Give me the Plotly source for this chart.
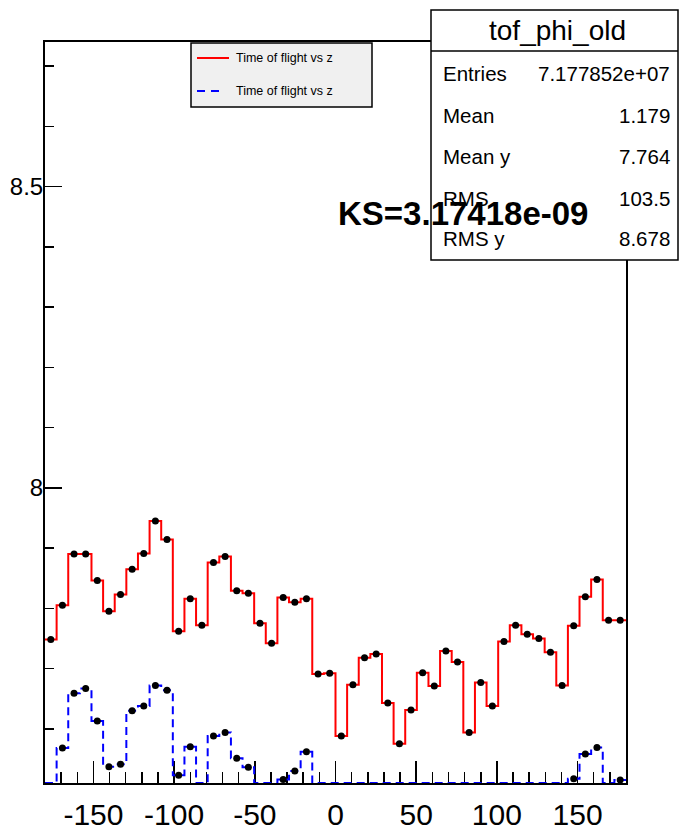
import numpy as np
import plotly.graph_objects as go

# ---------------- data ----------------
X_MIN, X_MAX, N_BINS = -180.0, 180.0, 50
Y_MIN, Y_MAX = 7.51, 8.74

red_values = [7.748, 7.805, 7.890, 7.890, 7.846, 7.795, 7.823, 7.865, 7.891, 7.945,
              7.914, 7.762, 7.816, 7.772, 7.876, 7.886, 7.829, 7.825, 7.775, 7.742,
              7.818, 7.810, 7.816, 7.691, 7.692, 7.588, 7.673, 7.718, 7.724, 7.643,
              7.575, 7.631, 7.693, 7.671, 7.729, 7.711, 7.594, 7.677, 7.638, 7.745,
              7.772, 7.757, 7.750, 7.727, 7.672, 7.771, 7.819, 7.848, 7.780, 7.780]

blue_values = [0.0, 7.568, 7.659, 7.667, 7.613, 7.537, 7.541, 7.630, 7.638, 7.672,
               7.664, 7.523, 7.570, 0.0, 7.588, 7.594, 7.551, 7.536, 0.0, 0.0,
               7.516, 7.530, 7.562, 0.0, 0.0, 0.0, 0.0, 0.0, 0.0, 0.0,
               0.0, 0.0, 0.0, 0.0, 0.0, 0.0, 0.0, 0.0, 0.0, 0.0,
               0.0, 0.0, 0.0, 0.0, 0.0, 7.517, 7.558, 7.569, 0.0, 7.515]

x_tick_vals = [-150, -100, -50, 0, 50, 100, 150]
x_tick_text = ["-150", "-100", "-50", "0", "50", "100", "150"]
y_tick_vals = [8.0, 8.5]
y_tick_text = ["8", "8.5"]
legend_labels = ["Time of flight vs z", "Time of flight vs z"]
stats_title = "tof_phi_old"
stats_names = ["Entries", "Mean", "Mean y", "RMS", "RMS y"]
stats_values = ["7.177852e+07", "1.179", "7.764", "103.5", "8.678"]
ks_text = "KS=3.17418e-09"

# ---------------- helpers ----------------
edges = np.linspace(X_MIN, X_MAX, N_BINS + 1)
centers = 0.5 * (edges[:-1] + edges[1:])


def step_y(vals):
    v = np.maximum(np.asarray(vals, float), Y_MIN)  # underflow drawn at frame bottom
    return np.append(v, v[-1])


def marker_y(vals):
    return [v if v >= Y_MIN else None for v in vals]


FONT = "Liberation Sans, Arial, Helvetica, sans-serif"
L, R, T, B = 45, 626, 42, 783
W, H = 679, 830


def PX(px):
    return (px - L) / (R - L)


def PY(py):
    return (B - py) / (B - T)


fig = go.Figure()
fig.add_trace(go.Scatter(x=edges, y=step_y(red_values), mode="lines",
                         line=dict(shape="hv", color="#ff0000", width=2),
                         name=legend_labels[0], showlegend=False))
fig.add_trace(go.Scatter(x=edges, y=step_y(blue_values), mode="lines",
                         line=dict(shape="hv", color="#0000ff", width=2, dash="8px,5px"),
                         name=legend_labels[1], showlegend=False))
fig.add_trace(go.Scatter(x=centers, y=marker_y(red_values), mode="markers",
                         marker=dict(color="black", size=7), showlegend=False,
                         hoverinfo="skip"))
fig.add_trace(go.Scatter(x=centers, y=marker_y(blue_values), mode="markers",
                         marker=dict(color="black", size=7), showlegend=False,
                         hoverinfo="skip"))

shapes = []
annotations = []

# legend box
shapes.append(dict(type="rect", xref="paper", yref="paper",
                   x0=PX(191), x1=PX(372), y0=PY(107), y1=PY(43),
                   fillcolor="#f0f0f0", line=dict(color="black", width=1.5), layer="above"))
shapes.append(dict(type="line", xref="paper", yref="paper",
                   x0=PX(197), x1=PX(229), y0=PY(58), y1=PY(58),
                   line=dict(color="#ff0000", width=2), layer="above"))
shapes.append(dict(type="line", xref="paper", yref="paper",
                   x0=PX(197), x1=PX(224), y0=PY(91), y1=PY(91),
                   line=dict(color="#0000ff", width=2, dash="8px,6px"), layer="above"))
for lab, yy in zip(legend_labels, [58, 91]):
    annotations.append(dict(text=lab, xref="paper", yref="paper", x=PX(234), y=PY(yy),
                            xanchor="left", yanchor="middle", showarrow=False,
                            font=dict(family=FONT, size=12.5, color="black")))

# stats box
shapes.append(dict(type="rect", xref="paper", yref="paper",
                   x0=PX(431), x1=PX(678), y0=PY(260), y1=PY(10),
                   fillcolor="white", line=dict(color="black", width=1.5), layer="above"))
shapes.append(dict(type="line", xref="paper", yref="paper",
                   x0=PX(431), x1=PX(678), y0=PY(51), y1=PY(51),
                   line=dict(color="black", width=1.5), layer="above"))
annotations.append(dict(text=stats_title, xref="paper", yref="paper", x=PX(557), y=PY(31),
                        xanchor="center", yanchor="middle", showarrow=False,
                        font=dict(family=FONT, size=28, color="black")))
row_y = [74, 115, 156, 198, 239]
for name, val, yy in zip(stats_names, stats_values, row_y):
    annotations.append(dict(text=name, xref="paper", yref="paper", x=PX(441), y=PY(yy),
                            xanchor="left", yanchor="middle", showarrow=False,
                            font=dict(family=FONT, size=20.5, color="black")))
    annotations.append(dict(text=val, xref="paper", yref="paper", x=PX(672), y=PY(yy),
                            xanchor="right", yanchor="middle", showarrow=False,
                            font=dict(family=FONT, size=20.5, color="black")))

# KS text
annotations.append(dict(text="<b>" + ks_text + "</b>", xref="paper", yref="paper",
                        x=PX(336), y=PY(214), xanchor="left", yanchor="middle",
                        showarrow=False,
                        font=dict(family=FONT, size=33, color="black")))

fig.update_layout(
    width=W, height=H,
    margin=dict(l=L, r=W - R, t=T, b=H - B, pad=0, autoexpand=False),
    plot_bgcolor="white", paper_bgcolor="white",
    showlegend=False,
    shapes=shapes, annotations=annotations,
    xaxis=dict(range=[X_MIN, X_MAX], tickvals=x_tick_vals, ticktext=x_tick_text,
               ticks="inside", ticklen=22,
               tickwidth=1.5, tickcolor="black", showline=True, linecolor="black",
               linewidth=2, mirror=True, showgrid=False, zeroline=False,
               automargin=False,
               tickfont=dict(family=FONT, size=30, color="black"),
               ticklabelstandoff=4, layer="below traces",
               minor=dict(dtick=10, tick0=0, ticks="inside", ticklen=11, tickwidth=1.5,
                          tickcolor="black", showgrid=False)),
    yaxis=dict(range=[Y_MIN, Y_MAX], tickvals=y_tick_vals, ticktext=y_tick_text,
               ticks="inside", ticklen=17, tickwidth=1.5, tickcolor="black",
               showline=True, linecolor="black", linewidth=2, mirror=True,
               showgrid=False, zeroline=False, automargin=False,
               ticklabelstandoff=-5,
               tickfont=dict(family=FONT, size=24, color="black"),
               minor=dict(dtick=0.1, tick0=0, ticks="inside", ticklen=9, tickwidth=1.5,
                          tickcolor="black", showgrid=False)),
)

fig.write_html("out.html", config={"displayModeBar": False, "staticPlot": True},
               post_script="document.body.style.margin='0';document.body.style.overflow='hidden';")
